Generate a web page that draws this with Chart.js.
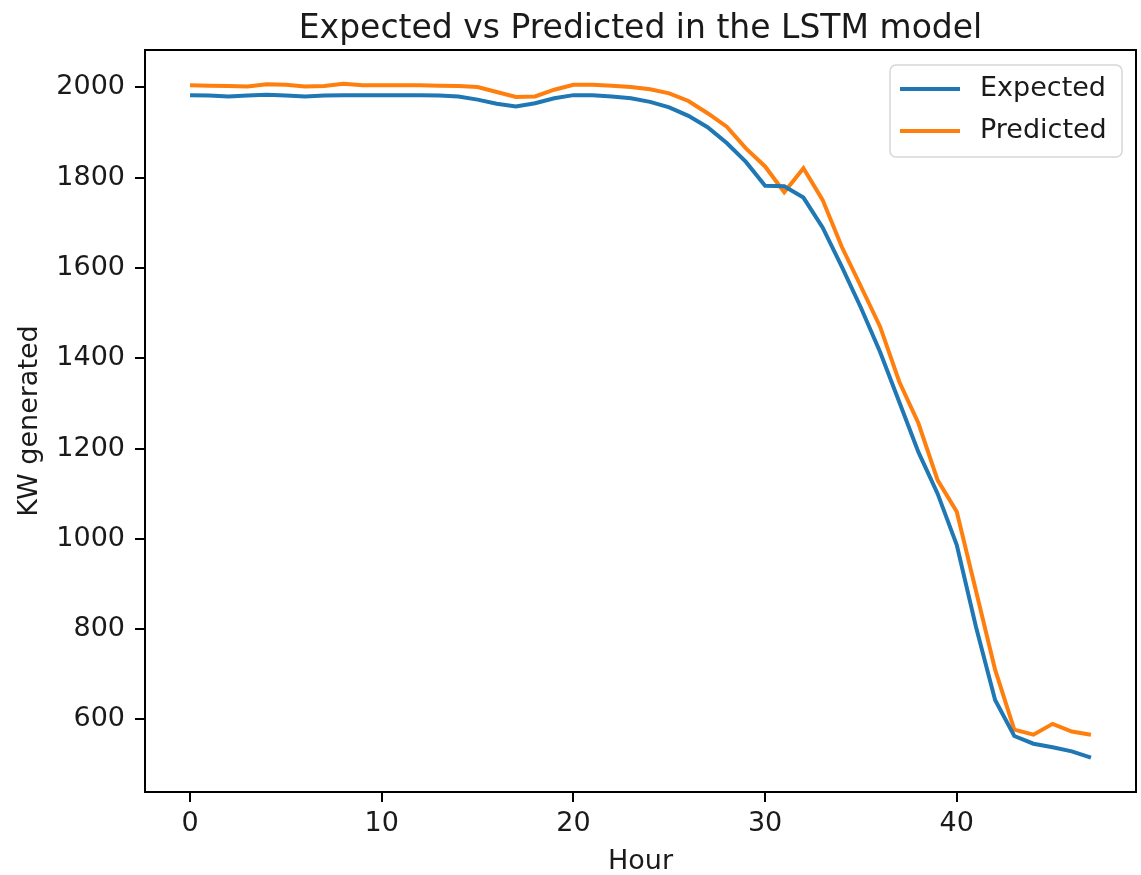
<!DOCTYPE html>
<html>
<head>
<meta charset="utf-8">
<title>Expected vs Predicted in the LSTM model</title>
<script src="https://cdn.jsdelivr.net/npm/chart.js@4.4.1/dist/chart.umd.min.js"></script>
<style>
  html, body { margin: 0; padding: 0; background: #fff; }
  canvas { display: block; }
</style>
</head>
<body>
<canvas id="chart" width="1141" height="875"></canvas>
<script>
// hours on the x axis
var hours = [0, 1, 2, 3, 4, 5, 6, 7, 8, 9, 10, 11, 12, 13, 14, 15, 16, 17, 18, 19,
  20, 21, 22, 23, 24, 25, 26, 27, 28, 29, 30, 31, 32, 33, 34, 35, 36, 37, 38, 39,
  40, 41, 42, 43, 44, 45, 46, 47];

// KW generated
var expected = [1983, 1982, 1980, 1982, 1984, 1982, 1980, 1982, 1983, 1983,
  1983, 1983, 1983, 1982, 1980, 1973, 1964, 1958, 1965, 1976,
  1983, 1983, 1980, 1976, 1968, 1956, 1937, 1912, 1877, 1835,
  1782, 1781, 1756, 1690, 1603, 1512, 1414, 1303, 1192, 1100,
  986, 805, 643, 563, 546, 538, 529, 515];

var predicted = [2005, 2004, 2003, 2002, 2007, 2006, 2002, 2003, 2008, 2005,
  2005, 2005, 2005, 2004, 2003, 2001, 1990, 1979, 1980, 1995,
  2006, 2006, 2004, 2001, 1996, 1987, 1970, 1943, 1913, 1865,
  1825, 1768, 1821, 1751, 1647, 1559, 1470, 1348, 1256, 1130,
  1060, 885, 710, 577, 566, 590, 573, 566];

var xTicks = [0, 10, 20, 30, 40];
var yTicks = [600, 800, 1000, 1200, 1400, 1600, 1800, 2000];

var FONT = "'DejaVu Sans', sans-serif";
var TEXT = '#1a1a1a';

function points(values) {
  return hours.map(function(h, i) { return {x: h, y: values[i]}; });
}

// box round the plot, like matplotlib spines
var frame = {
  id: 'frame',
  afterDatasetsDraw: function(chart) {
    var a = chart.chartArea, ctx = chart.ctx;
    ctx.save();
    ctx.strokeStyle = '#000';
    ctx.lineWidth = 2;
    ctx.strokeRect(a.left, a.top, a.right - a.left, a.bottom - a.top);
    ctx.restore();
  }
};

// legend in the upper right corner, inside the axes
var legendBox = {
  id: 'legendBox',
  afterDraw: function(chart) {
    var a = chart.chartArea, ctx = chart.ctx;
    var w = 232, h = 92;
    var x0 = a.right - 246, y0 = a.top + 15;
    ctx.save();
    ctx.beginPath();
    ctx.roundRect(x0, y0, w, h, 6);
    ctx.fillStyle = 'rgba(255,255,255,0.8)';
    ctx.fill();
    ctx.strokeStyle = '#d6d6d6';
    ctx.lineWidth = 1.5;
    ctx.stroke();
    ctx.font = '27px ' + FONT;
    ctx.textBaseline = 'middle';
    ctx.textAlign = 'left';
    chart.data.datasets.forEach(function(ds, i) {
      var cy = y0 + 24 + i * 42;
      ctx.beginPath();
      ctx.moveTo(x0 + 10, cy);
      ctx.lineTo(x0 + 70, cy);
      ctx.strokeStyle = ds.borderColor;
      ctx.lineWidth = 4;
      ctx.stroke();
      ctx.fillStyle = TEXT;
      ctx.fillText(ds.label, x0 + 90, cy);
    });
    ctx.restore();
  }
};

var ctx = document.getElementById('chart');
var lstmChart = new Chart(ctx, {
  type: 'line',
  data: {
    datasets: [{
      label: 'Expected',
      data: points(expected),
      borderColor: '#1f77b4',
      backgroundColor: '#1f77b4',
      borderWidth: 4,
      pointRadius: 0,
      fill: false,
      tension: 0
    }, {
      label: 'Predicted',
      data: points(predicted),
      borderColor: '#ff7f0e',
      backgroundColor: '#ff7f0e',
      borderWidth: 4,
      pointRadius: 0,
      fill: false,
      tension: 0
    }]
  },
  options: {
    responsive: false,
    animation: false,
    layout: { padding: { left: 0, right: 5, top: 0, bottom: 0 } },
    plugins: {
      legend: { display: false },
      tooltip: { enabled: false },
      title: {
        display: true,
        text: 'Expected vs Predicted in the LSTM model',
        fullSize: false,
        color: TEXT,
        font: { family: FONT, size: 33, weight: 'normal', lineHeight: 1.2 },
        padding: { top: 10, bottom: 0.4 }
      }
    },
    scales: {
      x: {
        type: 'linear',
        min: -2.35,
        max: 49.35,
        afterBuildTicks: function(scale) {
          scale.ticks = xTicks.map(function(v) { return {value: v}; });
        },
        afterFit: function(scale) { scale.height = 83; },
        grid: {
          drawOnChartArea: false,
          drawTicks: true,
          tickLength: 10,
          color: '#000',
          lineWidth: 2
        },
        border: { display: false },
        ticks: {
          color: TEXT,
          padding: 6,
          maxRotation: 0,
          font: { family: FONT, size: 27 },
          callback: function(v) { return String(v); }
        },
        title: {
          display: true,
          text: 'Hour',
          color: TEXT,
          font: { family: FONT, size: 27, lineHeight: 1 },
          padding: { top: 0, bottom: 0 }
        }
      },
      y: {
        type: 'linear',
        min: 439,
        max: 2083,
        afterBuildTicks: function(scale) {
          scale.ticks = yTicks.map(function(v) { return {value: v}; });
        },
        afterFit: function(scale) { scale.width = 145; },
        grid: {
          drawOnChartArea: false,
          drawTicks: true,
          tickLength: 10,
          color: '#000',
          lineWidth: 2
        },
        border: { display: false },
        ticks: {
          color: TEXT,
          padding: 10,
          font: { family: FONT, size: 27 },
          callback: function(v) { return String(v); }
        },
        title: {
          display: true,
          text: 'KW generated',
          color: TEXT,
          font: { family: FONT, size: 27, lineHeight: 1 },
          padding: { top: 16, bottom: 0 }
        }
      }
    }
  },
  plugins: [frame, legendBox]
});
</script>
</body>
</html>
